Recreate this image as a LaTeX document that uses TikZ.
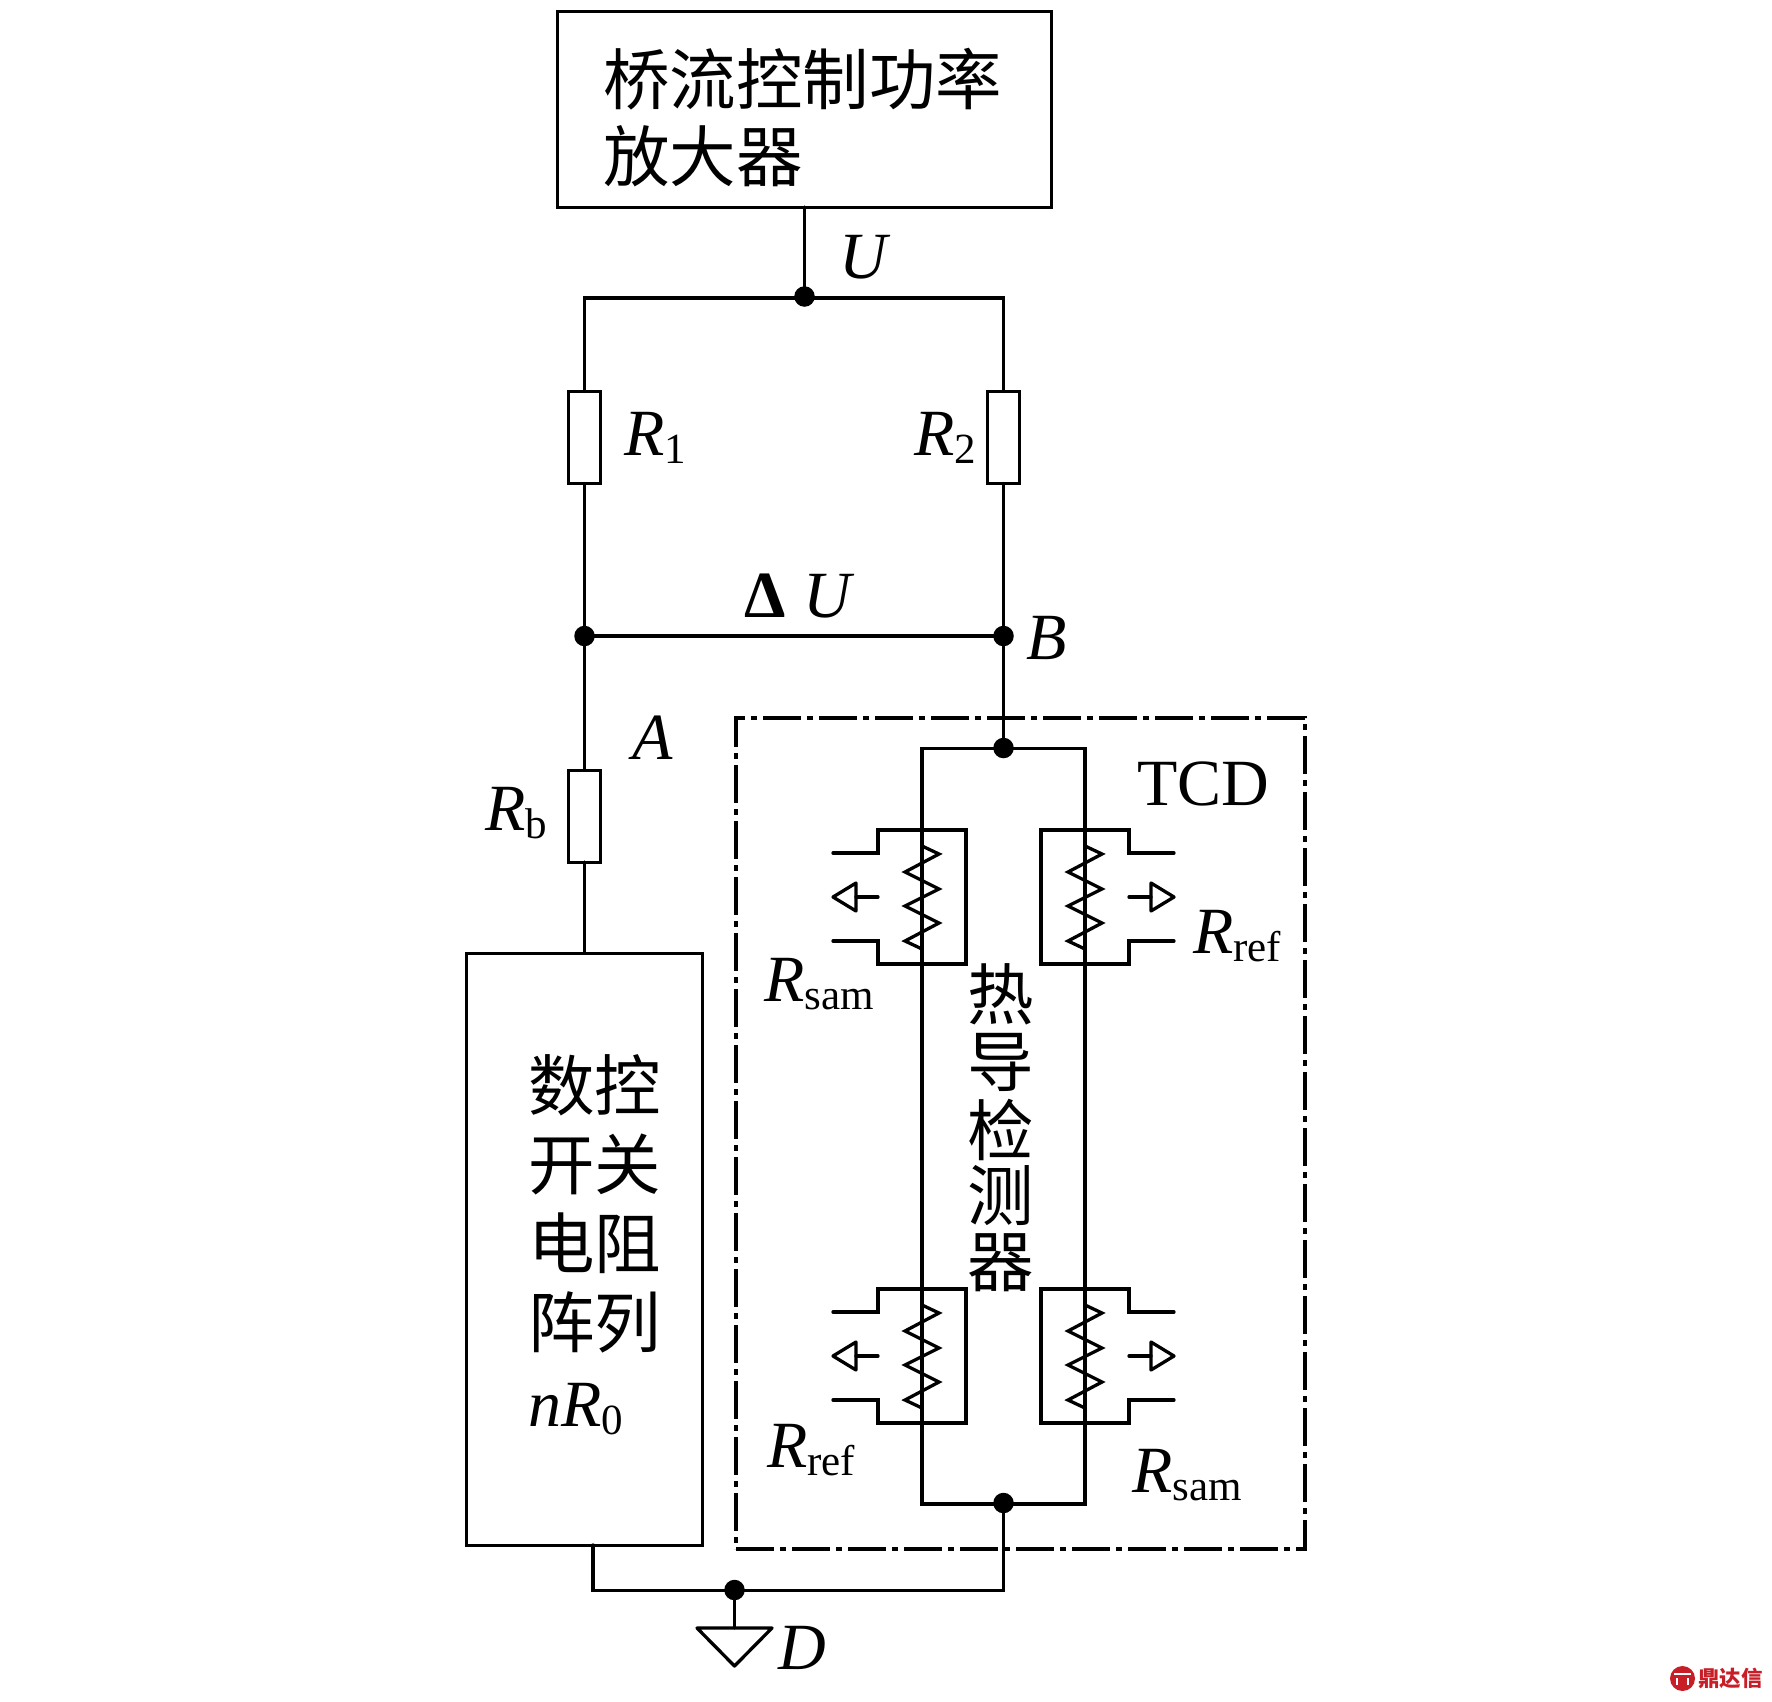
\documentclass[tikz,border=0pt]{standalone}
\usepackage{fontspec}
\setmainfont{Liberation Serif}
\newfontfamily\cjk{Noto Sans CJK SC}
\newcommand{\bigfs}{\fontsize{66}{68}\selectfont}
\newcommand{\cjkfs}{\fontsize{66.5}{68}\selectfont}
\newcommand{\subfs}{\fontsize{43}{43}\selectfont}
\newcommand{\Rlab}[1]{\textit{R}{\subfs\raisebox{-8pt}{#1}}}
\tikzset{
  wire/.style={line width=3.3pt,line cap=round,line join=miter},
  blockbox/.style={draw,line width=3pt,rectangle,inner sep=0pt,outer sep=0pt},
  resbox/.style={blockbox,minimum width=32pt,minimum height=92pt},
  junct/.style={circle,fill=black,inner sep=0pt,minimum width=20.5pt,outer sep=0pt},
  lab/.style={inner sep=0pt,outer sep=0pt,anchor=base west,font=\bigfs},
  cjklab/.style={inner sep=0pt,outer sep=0pt,font=\cjkfs\cjk},
  tcdline/.style={line width=3.2pt,dash pattern=on 38pt off 6pt on 6pt off 6pt},
  pics/gascell/.style={code={
    \draw[wire] (-89,-44) -- (-44,-44) -- (-44,-67) -- (44,-67) -- (44,67) -- (-44,67) -- (-44,44) -- (-89,44);
    \draw[wire] (-44,0) -- (-66,0);
    \draw[wire,line join=round] (-66,-14) -- (-66,14) -- (-89,0) -- cycle;
  }},
  pics/heater/.style={code={
    \draw[wire,line join=miter] (0,-51) -- (17,-43) -- (-17,-25) -- (17,-8) -- (-17,9) -- (17,26) -- (-17,44) -- (0,52);
  }}
}
\begin{document}
\begin{tikzpicture}[x=1pt,y=-1pt]
\useasboundingbox (0,0) rectangle (1772,1701);
% blocks
\node[blockbox,minimum width=494pt,minimum height=196pt] (amp) at (804.5,109) {};
\node[blockbox,minimum width=236pt,minimum height=592pt] (array) at (584,1249) {};
\node[resbox] (r1) at (584.5,437.5) {};
\node[resbox] (r2) at (1003.5,437.5) {};
\node[resbox] (rb) at (584.5,816) {};
% TCD frame
\node[rectangle,draw,tcdline,minimum width=569pt,minimum height=831pt,inner sep=0pt,outer sep=0pt] (tcd) at (1020.5,1133.5) {};
% junctions
\coordinate (tl) at (584.5,298);
\coordinate (tr) at (1003.5,298);
\node[junct] (ju) at (804.5,296.5) {};
\node[junct] (ja) at (584.5,636) {};
\node[junct] (jb) at (1003.5,636) {};
\node[junct] (jt) at (1003.5,748) {};
\node[junct] (jl) at (1003.5,1503) {};
\node[junct] (jg) at (734.5,1590) {};
\coordinate (it1) at (922,748.5);
\coordinate (it2) at (1085,748.5);
\coordinate (ib1) at (922,1504);
\coordinate (ib2) at (1085,1504);
\coordinate (arrout) at (593,1545);
\coordinate (arrlow) at (593,1590.5);
\coordinate (brlow) at (1003.5,1590.5);
\coordinate (gl) at (697,1628);
\coordinate (gm) at (734.5,1628);
\coordinate (gr) at (772,1628);
\coordinate (gt) at (734.5,1666);
% connectors
\draw[wire] (amp.south) -- (ju.center);
\draw[wire] (r1.north) -- (tl) -- (tr) -- (r2.north);
\draw[wire] (r1.south) -- (ja.center);
\draw[wire] (r2.south) -- (jb.center);
\draw[wire] (ja.center) -- (jb.center);
\draw[wire] (ja.center) -- (rb.north);
\draw[wire] (rb.south) -- (rb.south |- array.north);
\draw[wire] (jb.center) -- (jt.center);
\draw[wire] (it1) rectangle (ib2);
\draw[wire] (arrout) -- (arrlow) -- (brlow) -- (jl.center);
\draw[wire] (jg.center) -- (gm);
\draw[wire,line join=round] (gl) -- (gr) -- (gt) -- cycle;
% gas cells
\pic at (922,897) {gascell};
\pic[xscale=-1] at (1085,897) {gascell};
\pic at (922,1356) {gascell};
\pic[xscale=-1] at (1085,1356) {gascell};
\pic at (922,897) {heater};
\pic at (1085,897) {heater};
\pic at (922,1356) {heater};
\pic at (1085,1356) {heater};
% texts
\node[cjklab,anchor=west] (t1) at (603,79) {桥流控制功率};
\node[cjklab,anchor=west] (t2) at (603,156) {放大器};
\node[lab] (lu) at (839,278) {\textit{U}};
\node[lab] (lr1) at (624,455) {\Rlab{1}};
\node[lab] (lr2) at (914,455) {\Rlab{2}};
\node[lab] (ldu) at (744,617) {\textbf{Δ}\hspace{18pt}\textit{U}};
\node[lab] (lb) at (1026,659) {\textit{B}};
\node[lab] (la) at (632,759) {\textit{A}};
\node[lab] (lrb) at (485,830) {\Rlab{b}};
\node[lab] (ltcd) at (1137,805) {TCD};
\node[lab] (lr3) at (1193,953) {\Rlab{ref}};
\node[lab] (lr4) at (764,1001) {\Rlab{sam}};
\node[lab] (lr5) at (767,1467) {\Rlab{ref}};
\node[lab] (lr6) at (1132,1492) {\Rlab{sam}};
\node[lab] (ld) at (778,1669) {\textit{D}};
\node[cjklab,anchor=west] (a1) at (528,1085) {数控};
\node[cjklab,anchor=west] (a2) at (528,1164) {开关};
\node[cjklab,anchor=west] (a3) at (528,1243) {电阻};
\node[cjklab,anchor=west] (a4) at (528,1322) {阵列};
\node[lab] (a5) at (528,1426) {\textit{n}\Rlab{0}};
\node[cjklab] (v1) at (1001,994) {热};
\node[cjklab] (v2) at (1001,1062) {导};
\node[cjklab] (v3) at (1001,1130) {检};
\node[cjklab] (v4) at (1001,1196) {测};
\node[cjklab] (v5) at (1001,1263) {器};
% watermark
\definecolor{wmred}{RGB}{200,30,40}
\fill[wmred] (1682.5,1678.5) circle (12.5);
\draw[white,line width=1.4pt] (1674,1674) -- (1691,1674) (1677,1678) -- (1677,1685) (1688,1678) -- (1688,1685);
\node[inner sep=0pt,outer sep=0pt,anchor=west,text=wmred,font=\fontsize{21.5}{22}\selectfont\cjk\bfseries] (wm) at (1698,1678.5) {鼎达信};
\end{tikzpicture}
\end{document}
